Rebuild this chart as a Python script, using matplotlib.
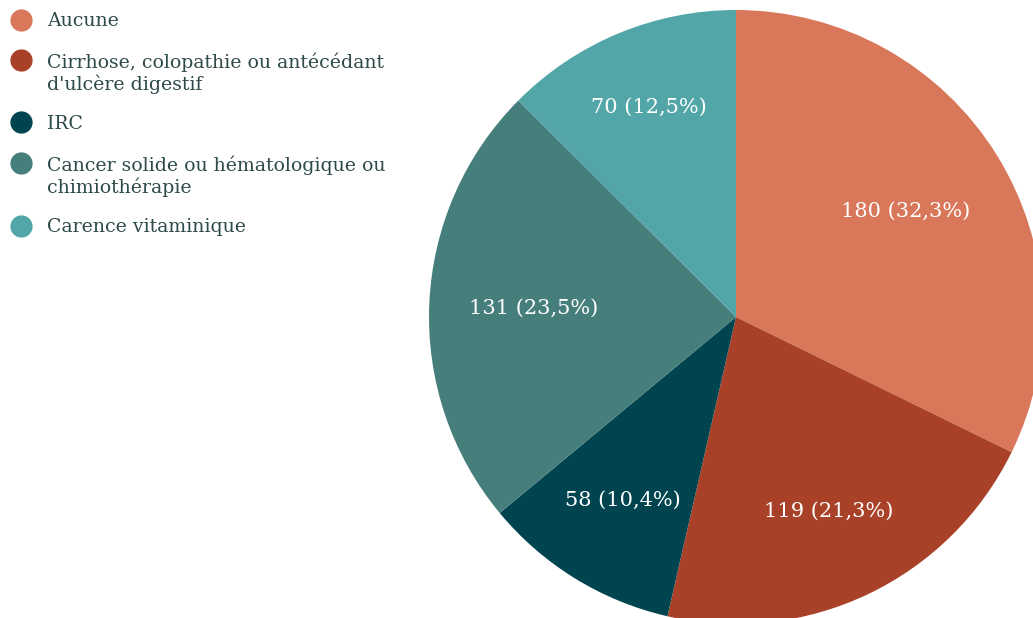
import matplotlib
matplotlib.use("Agg")
import matplotlib.pyplot as plt
import numpy as np

categories = ["Aucune",
              "Cirrhose, colopathie ou antécédant\nd'ulcère digestif",
              "IRC",
              "Cancer solide ou hématologique ou\nchimiothérapie",
              "Carence vitaminique"]
values = [180, 119, 58, 131, 70]
colors = ["#D9775A", "#A94128", "#004450", "#467E7B", "#52A6A8"]
label_dist = [0.65, 0.70, 0.70, 0.66, 0.74]
text_color = "#2F4A4A"

plt.rcParams['font.family'] = ['DejaVu Serif']

W, H = 1033, 618
fig = plt.figure(figsize=(W / 100, H / 100), dpi=100)

cx, cy, r = 736, 317, 307
ax = fig.add_axes([(cx - r) / W, (H - cy - r) / H, 2 * r / W, 2 * r / H])

total = sum(values)

wedges, texts = ax.pie(values, colors=colors, startangle=90,
                       counterclock=False, radius=1)

for w, v, d in zip(wedges, values, label_dist):
    ang = np.deg2rad((w.theta1 + w.theta2) / 2)
    pct = v / total * 100
    s = f"{v} ({pct:.1f}%)".replace(".", ",")
    ax.text(d * np.cos(ang), d * np.sin(ang), s, color="white",
            fontsize=15, ha="center", va="center")

ax.set_xlim(-1, 1)
ax.set_ylim(-1, 1)
ax.set_aspect("equal")
ax.axis("off")

# legend drawn by hand, one row per category
y = 19.5
for lab, c in zip(categories, colors):
    fig.lines.append(plt.Line2D([20.5 / W], [1 - y / H], marker="o",
                                markersize=15, color=c, linestyle="",
                                transform=fig.transFigure))
    lines = lab.split("\n")
    for i, ln in enumerate(lines):
        fig.text(47 / W, 1 - (y + 22 * i) / H, ln, color=text_color,
                 fontsize=13.6, ha="left", va="center_baseline")
    y += 18.5 + 22 * len(lines)

fig.savefig("out.png", dpi=100)
